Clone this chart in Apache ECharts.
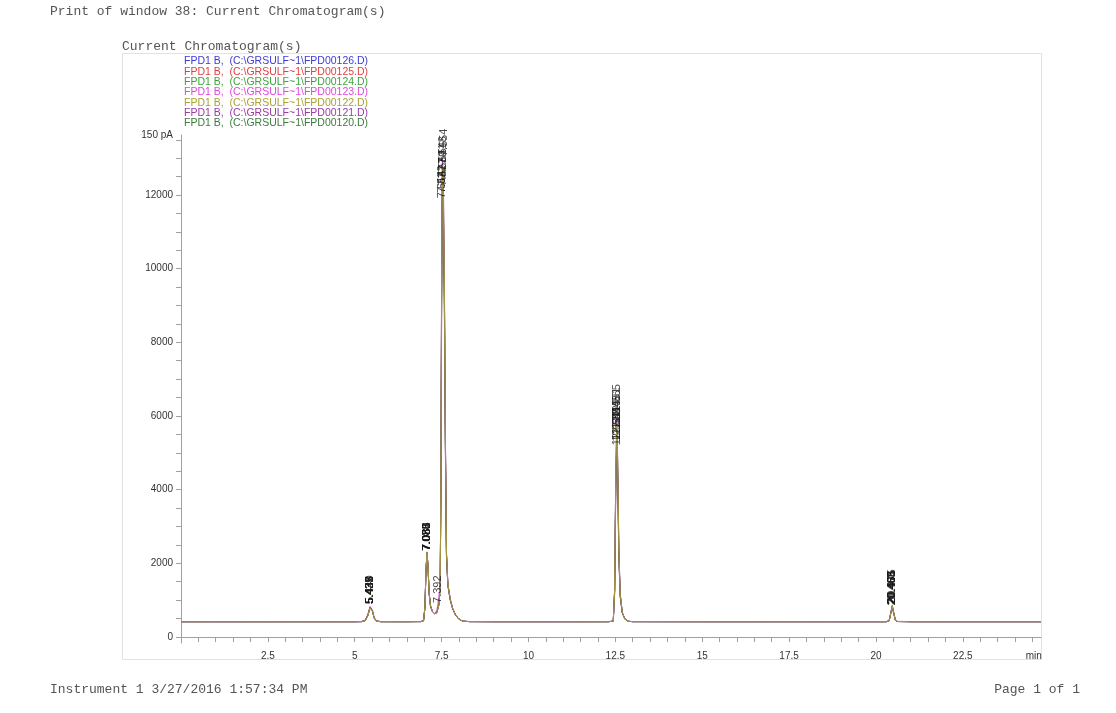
<!DOCTYPE html>
<html><head><meta charset="utf-8">
<script src="https://cdn.jsdelivr.net/npm/echarts@6/dist/echarts.min.js"></script>
<style>html,body{margin:0;padding:0;background:#fff}#c{width:1116px;height:713px}</style>
</head><body><div id="c"></div>
<script>
// retention times (min), shared by all traces
const times = [0,1,2,3,4,5,
  5.2,5.3,5.38,5.44,5.47,5.51,5.56,5.63,5.75,
  6.5,6.9,6.98,7.02,7.05,7.08,7.11,7.14,7.18,7.23,
  7.3,7.36,7.39,7.43,7.46,7.48,7.5,7.52,7.55,7.58,
  7.61,7.64,7.68,7.75,7.82,7.9,7.98,8.1,8.3,
  9,10,11,12,
  12.3,12.44,12.48,12.51,12.54,12.57,12.6,12.64,12.7,12.78,12.88,13,
  15,18,20,
  20.3,20.38,20.43,20.47,20.51,20.56,20.62,
  21,23,24.75];

const s126 = [415,416,415,414,416,415,
  418,446,592,805,845,702,512,431,416,
  416,418,441,805,1810,2310,1905,1205,852,702,
  632,662,702,905,1520,4100,9300,12400,11900,9300,
  5200,2250,1420,1010,765,602,502,431,418,
  415,416,415,416,
  415,431,1280,4100,5600,4550,2350,1150,660,482,426,416,
  415,416,415,
  416,442,660,830,655,452,421,
  415,416,415];
const s125 = [416,415,415,416,415,416,
  417,447,595,810,850,705,515,432,417,
  415,419,440,800,1795,2290,1895,1198,848,698,
  628,658,698,910,1530,4150,9400,12600,12100,9400,
  5250,2260,1430,1015,768,605,504,432,417,
  416,415,416,416,
  416,430,1250,4000,5450,4420,2300,1130,655,481,425,417,
  416,416,415,
  415,441,655,820,650,451,420,
  416,415,416];
const s124 = [414,415,416,415,415,414,
  418,444,588,800,842,699,511,430,416,
  415,418,441,803,1805,2305,1900,1202,851,701,
  631,661,701,902,1490,3950,8900,12200,11700,9150,
  5100,2230,1410,1005,762,601,501,430,418,
  415,415,416,415,
  415,429,1220,3900,5300,4300,2250,1120,652,480,425,417,
  415,415,416,
  416,444,670,850,665,455,421,
  415,415,416];
const s123 = [415,415,415,415,415,415,
  422,460,620,830,870,730,540,440,418,
  416,420,445,790,1780,2280,1880,1180,840,690,
  640,720,870,840,1400,3700,8600,11860,11300,8800,
  4900,2150,1380,990,750,595,498,430,418,
  415,415,415,415,
  416,432,1180,3700,5150,4150,2150,1090,648,480,426,417,
  415,415,415,
  418,450,690,870,690,470,425,
  415,415,415];
const s122 = [415,416,415,415,414,415,
  417,443,585,795,835,695,508,429,416,
  415,418,440,802,1800,2300,1898,1200,850,700,
  630,660,700,900,1540,4200,9600,12800,12300,9600,
  5300,2280,1440,1020,770,606,505,432,418,
  415,416,415,415,
  415,431,1300,4200,5800,4700,2420,1180,665,484,427,417,
  415,416,416,
  416,441,660,840,655,452,421,
  415,416,415];
const s121 = [416,415,415,416,415,415,
  418,446,594,808,848,703,513,431,417,
  416,418,440,801,1798,2295,1896,1199,849,699,
  629,659,699,905,1560,4250,9800,13000,12500,9800,
  5400,2300,1450,1025,772,607,506,432,418,
  416,415,415,416,
  416,430,1320,4300,5900,4780,2460,1190,668,485,427,417,
  416,415,415,
  415,440,655,835,652,451,420,
  416,415,415];
const s120 = [415,416,414,415,416,415,
  418,445,590,800,840,700,510,430,416,
  415,418,440,800,1800,2300,1900,1200,850,700,
  630,660,700,900,1500,4000,9000,12000,11500,9000,
  5000,2200,1400,1000,760,600,500,430,418,
  416,415,416,415,
  416,430,1240,3950,5250,4250,2200,1100,650,480,425,417,
  416,415,416,
  416,440,650,800,640,450,420,
  416,415,415];

// peak retention time labels per trace
const p126 = [5.433,7.083,7.530,12.548,20.468];
const p125 = [5.437,7.086,7.541,12.544,20.463];
const p124 = [5.431,7.081,7.527,12.541,20.471];
const p123 = [5.440,7.078,7.392,7.514,12.537,20.475];
const p122 = [5.435,7.085,7.548,12.551,20.466];
const p121 = [5.438,7.087,7.554,12.555,20.465];
const p120 = [5.429,7.080,7.522,12.539,20.460];

const names = [
  'FPD1 B,  (C:\\GRSULF~1\\FPD00126.D)',
  'FPD1 B,  (C:\\GRSULF~1\\FPD00125.D)',
  'FPD1 B,  (C:\\GRSULF~1\\FPD00124.D)',
  'FPD1 B,  (C:\\GRSULF~1\\FPD00123.D)',
  'FPD1 B,  (C:\\GRSULF~1\\FPD00122.D)',
  'FPD1 B,  (C:\\GRSULF~1\\FPD00121.D)',
  'FPD1 B,  (C:\\GRSULF~1\\FPD00120.D)'];
const colors = ['#3b3bd6','#e04040','#3ea33e','#e245e2','#a9a332','#9b3aa6','#3d7a3d'];
const values = [s126,s125,s124,s123,s122,s121,s120];
const peaks = [p126,p125,p124,p123,p122,p121,p120];

const yLabelValues = [0,2000,4000,6000,8000,10000,12000,13629];
const xLabelValues = [2.5,5,7.5,10,12.5,15,17.5,20,22.5,24.54];

const yTicks = []; for (let v = 0; v <= 13500; v += 500) yTicks.push(v);
const xTicks = []; for (let v = 0; v <= 24.5; v += 0.5) xTicks.push(+v.toFixed(1));

const drawOrder = [3,0,1,2,6,5,4];
const series = [];
drawOrder.forEach(k => {
  series.push({
    name: names[k], type: 'line', showSymbol: false, symbol: 'none',
    data: times.map((t, i) => [t, values[k][i]]),
    lineStyle: { width: 0.9, color: colors[k] }, itemStyle: { color: colors[k] },
    z: 2
  });
});
drawOrder.forEach(k => {
  const pts = peaks[k].map(rt => {
    let m = 0;
    times.forEach((t, i) => { if (Math.abs(t - rt) <= 0.06 && values[k][i] > m) m = values[k][i]; });
    return [rt, m, rt.toFixed(3)];
  });
  series.push({
    type: 'scatter', symbolSize: 0, data: pts, z: 5, silent: true,
    label: { show: true, formatter: p => p.data[2], position: 'top', distance: 2,
      rotate: 90, align: 'left', verticalAlign: 'middle',
      fontFamily: 'Liberation Sans', fontSize: 11, color: '#1a1a1a' }
  });
});

const monoText = { fontFamily: 'Liberation Mono', fontSize: 13, fontWeight: 'normal', color: '#555' };
const chart = echarts.init(document.getElementById('c'), null, { renderer: 'canvas' });
chart.setOption({
  animation: false,
  backgroundColor: '#fff',
  title: [
    { text: 'Print of window 38: Current Chromatogram(s)', left: 50, top: 5, padding: 0, textStyle: monoText },
    { text: 'Current Chromatogram(s)', left: 122, top: 40, padding: 0, textStyle: monoText },
    { text: 'Instrument 1 3/27/2016 1:57:34 PM', left: 50, top: 683, padding: 0, textStyle: monoText },
    { text: 'Page 1 of 1', right: 36, top: 683, padding: 0, textStyle: monoText }
  ],
  graphic: [
    { type: 'rect', shape: { x: 122.5, y: 53.5, width: 919, height: 606 }, silent: true, z: -1,
      style: { fill: 'none', stroke: '#e2e2e2', lineWidth: 1 } }
  ],
  legend: {
    orient: 'vertical', left: 179, top: 56, icon: 'none', itemWidth: 0, itemHeight: 5, itemGap: -0.7,
    selectedMode: false, padding: 0,
    textStyle: { fontFamily: 'Liberation Sans', fontSize: 10.5 },
    data: names.map((n, k) => ({ name: n, textStyle: { color: colors[k] } }))
  },
  grid: { left: 181, right: 75, top: 135, bottom: 70 },
  xAxis: {
    type: 'value', min: 0, max: 24.75,
    axisLine: { lineStyle: { color: '#a0a0a0', width: 1 } },
    axisTick: { customValues: xTicks, length: 5, lineStyle: { color: '#a0a0a0' } },
    axisLabel: { customValues: xLabelValues, formatter: v => v > 23 ? 'min' : String(v),
      fontFamily: 'Liberation Sans', fontSize: 10, color: '#333', margin: 8 },
    splitLine: { show: false }
  },
  yAxis: {
    type: 'value', min: -163, max: 13629,
    axisLine: { show: true, lineStyle: { color: '#a0a0a0', width: 1 } },
    axisTick: { show: true, customValues: yTicks, length: 5, lineStyle: { color: '#a0a0a0' } },
    axisLabel: { customValues: yLabelValues, formatter: v => v > 13000 ? '150 pA' : String(v),
      fontFamily: 'Liberation Sans', fontSize: 10, color: '#333', margin: 8 },
    splitLine: { show: false }
  },
  series: series
});
</script></body></html>
